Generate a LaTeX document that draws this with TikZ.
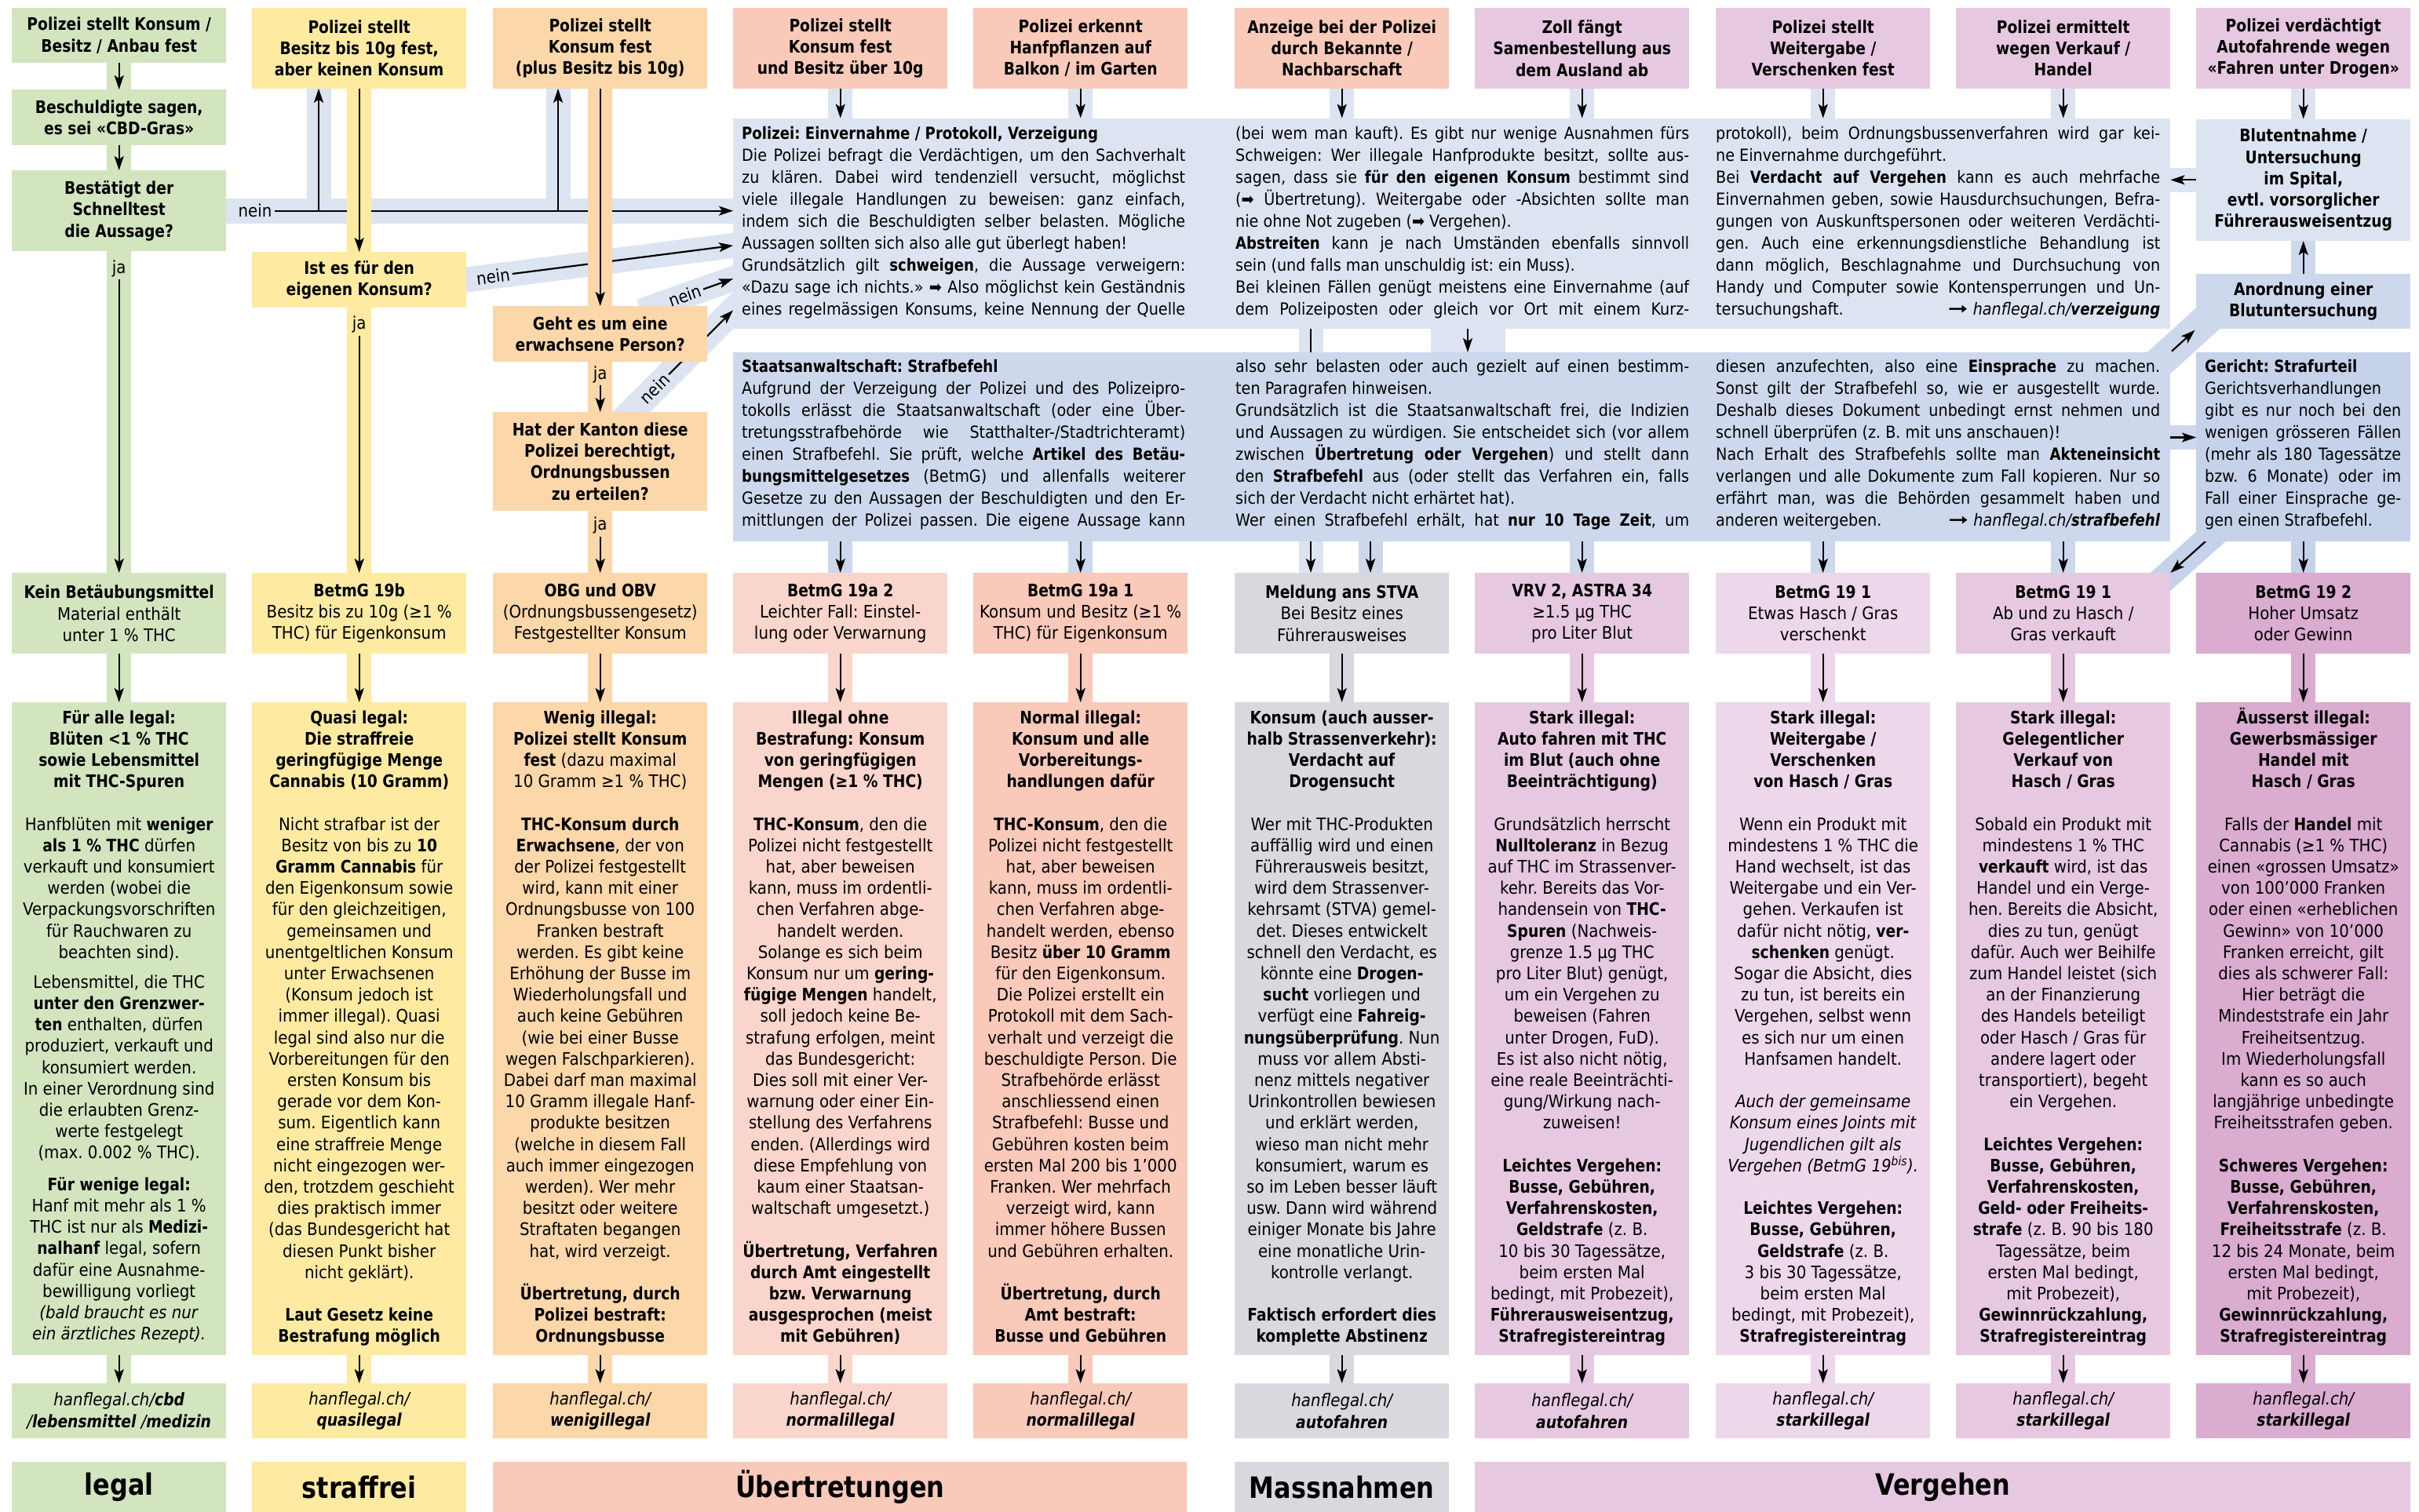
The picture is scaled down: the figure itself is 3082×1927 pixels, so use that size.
\documentclass[tikz,border=0pt]{standalone}
\usepackage{fontspec}
\setmainfont{DejaVu Sans}[
  UprightFeatures={FakeStretch=0.9},
  BoldFeatures={FakeStretch=0.85},
  ItalicFeatures={FakeStretch=0.9},
  BoldItalicFeatures={FakeStretch=0.85}]
\usetikzlibrary{calc,positioning,arrows.meta}
\tikzset{>={Stealth[length=18pt,width=12pt,inset=4pt]}}

\pgfdeclarelayer{bands}
\pgfdeclarelayer{bluelines}
\pgfdeclarelayer{colbands}
\pgfsetlayers{bands,bluelines,colbands,main}

\definecolor{cgreen}{HTML}{D2E5BF}
\definecolor{cyellow}{HTML}{FEEBA1}
\definecolor{corange}{HTML}{FBD7A9}
\definecolor{csalmon}{HTML}{F9C9B9}
\definecolor{csalmonl}{HTML}{FAD5CB}
\definecolor{cgrey}{HTML}{D8D9DE}
\definecolor{cpink}{HTML}{E6C9E1}
\definecolor{cpinkl}{HTML}{EDD7EA}
\definecolor{cpinkd}{HTML}{D9ACD0}
\definecolor{cbluel}{HTML}{DDE4F1}
\definecolor{cbluem}{HTML}{CDD8EC}
\definecolor{cblued}{HTML}{C5D2EA}

\newcommand\hdfont{\fontsize{22}{27.2}\selectfont\bfseries}
\newcommand\txfont{\fontsize{22}{27.2}\selectfont}
\newcommand\blfont{\fontsize{21.3}{28}\selectfont\frenchspacing}
\newcommand\catfont{\fontsize{37.5}{40}\selectfont\bfseries}
\newcommand\jl[1]{\hbox to\linewidth{#1}}
\newcommand\el[1]{\hbox{#1}}
\newcommand\leer{\\[27.2pt]}
\newcommand\weiter{\scalebox{1.7}[1.1]{\textbf{➞}}}

\tikzset{
  cell/.style={anchor=north west, inner sep=0pt, minimum width=273pt, align=center},
  hdbox/.style={cell, minimum height=102.5pt, font=\hdfont},
  midbox/.style={cell, minimum height=103pt, font=\txfont},
  lowbox/.style={cell, minimum height=832pt},
  urlbox/.style={cell, minimum height=70pt, font=\txfont\itshape},
  catbox/.style={cell, minimum height=64pt, font=\catfont},
  blk/.style={anchor=north west, inner sep=0pt},
  btxt/.style={anchor=base west, inner sep=0pt},
  bodytxt/.style={anchor=base, inner sep=0pt},
  lbl/.style={inner sep=3pt, font=\txfont},
  strip/.style={draw=#1, line width=31pt},
  arr/.style={->, line width=2.2pt}
}

\begin{document}
\frenchspacing
\begin{tikzpicture}[x=1pt, y=-1pt]
\useasboundingbox (0,0) rectangle (3082,1927);

\node[hdbox, fill=cgreen, minimum height=70pt] (g1) at (15,10) {Polizei stellt Konsum /\\Besitz / Anbau fest};
\node[hdbox, fill=cgreen, minimum height=70.6pt] (g2) at (15,114) {Beschuldigte sagen,\\es sei «CBD-Gras»};
\node[hdbox, fill=cgreen, minimum height=103pt] (q1) at (15,217) {Bestätigt der\\Schnelltest\\die Aussage?};
\node[hdbox, fill=cyellow] (hd2) at (321,10) {Polizei stellt\\Besitz bis 10g fest,\\aber keinen Konsum};
\node[hdbox, fill=cyellow, minimum height=70.6pt] (q2) at (321,321) {Ist es für den\\eigenen Konsum?};
\node[hdbox, fill=corange] (hd3) at (628,10) {Polizei stellt\\Konsum fest\\(plus Besitz bis 10g)};
\node[hdbox, fill=corange, minimum height=71pt] (q3) at (628,390) {Geht es um eine\\erwachsene Person?};
\node[hdbox, fill=corange, minimum height=125.6pt] (q4) at (628,525) {Hat der Kanton diese\\Polizei berechtigt,\\Ordnungsbussen\\zu erteilen?};
\node[hdbox, fill=csalmon] (hd4) at (934,10) {Polizei stellt\\Konsum fest\\und Besitz über 10g};
\node[hdbox, fill=csalmon] (hd5) at (1240,10) {Polizei erkennt\\Hanfpflanzen auf\\Balkon / im Garten};
\node[hdbox, fill=csalmon] (hd6) at (1573,10) {Anzeige bei der Polizei\\durch Bekannte /\\Nachbarschaft};
\node[hdbox, fill=cpink] (hd7) at (1879,10) {Zoll fängt\\Samenbestellung aus\\dem Ausland ab};
\node[hdbox, fill=cpink] (hd8) at (2186,10) {Polizei stellt\\Weitergabe /\\Verschenken fest};
\node[hdbox, fill=cpink] (hd9) at (2492,10) {Polizei ermittelt\\wegen Verkauf /\\Handel};
\node[hdbox, fill=cpink] (hd10) at (2798,10) {Polizei verdächtigt\\Autofahrende wegen\\«Fahren unter Drogen»};

\node[blk, fill=cbluel, minimum width=1831pt, minimum height=268.4pt] (pol) at (934,150.6) {};
\node[blk, fill=cbluem, minimum width=1831pt, minimum height=240.6pt] (sa) at (934,449) {};
\node[hdbox, fill=cbluel, minimum height=155.2pt] (blut) at (2798,151.5) {Blutentnahme /\\Untersuchung\\im Spital,\\evtl. vorsorglicher\\Führerausweisentzug};
\node[hdbox, fill=cbluem, minimum height=70pt] (anord) at (2798,349) {Anordnung einer\\Blutuntersuchung};
\node[blk, fill=cblued, minimum width=273pt, minimum height=240.6pt] (ger) at (2798,449) {};

\node[btxt] (polA) at ([xshift=11pt, yshift=-26.4pt]pol.north west) {\parbox[t]{565pt}{\blfont
\el{\textbf{Polizei: Einvernahme / Protokoll, Verzeigung}}
\jl{Die Polizei befragt die Verdächtigen, um den Sachverhalt}
\jl{zu klären. Dabei wird tendenziell versucht, möglichst}
\jl{viele illegale Handlungen zu beweisen: ganz einfach,}
\jl{indem sich die Beschuldigten selber belasten. Mögliche}
\el{Aussagen sollten sich also alle gut überlegt haben!}
\jl{Grundsätzlich gilt \textbf{schweigen}, die Aussage verweigern:}
\jl{«Dazu sage ich nichts.» ➡ Also möglichst kein Geständnis}
\jl{eines regelmässigen Konsums, keine Nennung der Quelle}}};
\node[btxt] (polB) at ([xshift=640pt, yshift=-26.4pt]pol.north west) {\parbox[t]{578pt}{\blfont
\jl{(bei wem man kauft). Es gibt nur wenige Ausnahmen fürs}
\jl{Schweigen: Wer illegale Hanfprodukte besitzt, sollte aus-}
\jl{sagen, dass sie \textbf{für den eigenen Konsum} bestimmt sind}
\jl{(➡ Übertretung). Weitergabe oder -Absichten sollte man}
\el{nie ohne Not zugeben (➡ Vergehen).}
\jl{\textbf{Abstreiten} kann je nach Umständen ebenfalls sinnvoll}
\el{sein (und falls man unschuldig ist: ein Muss).}
\jl{Bei kleinen Fällen genügt meistens eine Einvernahme (auf}
\jl{dem Polizeiposten oder gleich vor Ort mit einem Kurz-}}};
\node[btxt] (polC) at ([xshift=1252pt, yshift=-26.4pt]pol.north west) {\parbox[t]{566pt}{\blfont
\jl{protokoll), beim Ordnungsbussenverfahren wird gar kei-}
\el{ne Einvernahme durchgeführt.}
\jl{Bei \textbf{Verdacht auf Vergehen} kann es auch mehrfache}
\jl{Einvernahmen geben, sowie Hausdurchsuchungen, Befra-}
\jl{gungen von Auskunftspersonen oder weiteren Verdächti-}
\jl{gen. Auch eine erkennungsdienstliche Behandlung ist}
\jl{dann möglich, Beschlagnahme und Durchsuchung von}
\jl{Handy und Computer sowie Kontensperrungen und Un-}
\jl{tersuchungshaft.\hfill\weiter\ \textit{hanflegal.ch/\textbf{verzeigung}}}}};

\node[btxt] (saA) at ([xshift=11pt, yshift=-25pt]sa.north west) {\parbox[t]{565pt}{\blfont
\el{\textbf{Staatsanwaltschaft: Strafbefehl}}
\jl{Aufgrund der Verzeigung der Polizei und des Polizeipro-}
\jl{tokolls erlässt die Staatsanwaltschaft (oder eine Über-}
\jl{tretungsstrafbehörde wie Statthalter-/Stadtrichteramt)}
\jl{einen Strafbefehl. Sie prüft, welche \textbf{Artikel des Betäu-}}
\jl{\textbf{bungsmittelgesetzes} (BetmG) und allenfalls weiterer}
\jl{Gesetze zu den Aussagen der Beschuldigten und den Er-}
\jl{mittlungen der Polizei passen. Die eigene Aussage kann}}};
\node[btxt] (saB) at ([xshift=640pt, yshift=-25pt]sa.north west) {\parbox[t]{578pt}{\blfont
\jl{also sehr belasten oder auch gezielt auf einen bestimm-}
\el{ten Paragrafen hinweisen.}
\jl{Grundsätzlich ist die Staatsanwaltschaft frei, die Indizien}
\jl{und Aussagen zu würdigen. Sie entscheidet sich (vor allem}
\jl{zwischen \textbf{Übertretung oder Vergehen}) und stellt dann}
\jl{den \textbf{Strafbefehl} aus (oder stellt das Verfahren ein, falls}
\el{sich der Verdacht nicht erhärtet hat).}
\jl{Wer einen Strafbefehl erhält, hat \textbf{nur 10 Tage Zeit}, um}}};
\node[btxt] (saC) at ([xshift=1252pt, yshift=-25pt]sa.north west) {\parbox[t]{566pt}{\blfont
\jl{diesen anzufechten, also eine \textbf{Einsprache} zu machen.}
\jl{Sonst gilt der Strafbefehl so, wie er ausgestellt wurde.}
\jl{Deshalb dieses Dokument unbedingt ernst nehmen und}
\el{schnell überprüfen (z. B. mit uns anschauen)!}
\jl{Nach Erhalt des Strafbefehls sollte man \textbf{Akteneinsicht}}
\jl{verlangen und alle Dokumente zum Fall kopieren. Nur so}
\jl{erfährt man, was die Behörden gesammelt haben und}
\jl{anderen weitergeben.\hfill\weiter\ \textit{hanflegal.ch/\textbf{strafbefehl}}}}};
\node[btxt] (gerT) at ([xshift=11pt, yshift=-25pt]ger.north west) {\parbox[t]{250pt}{\blfont
\el{\textbf{Gericht: Strafurteil}}
\el{Gerichtsverhandlungen}
\jl{gibt es nur noch bei den}
\jl{wenigen grösseren Fällen}
\jl{(mehr als 180 Tagessätze}
\jl{bzw. 6 Monate) oder im}
\jl{Fall einer Einsprache ge-}
\el{gen einen Strafbefehl.}}};

\node[midbox, fill=cgreen] (m1) at (15,730) {\textbf{Kein Betäubungsmittel}\\Material enthält\\unter 1 \% THC};
\node[midbox, fill=cyellow] (m2) at (321,730) {\textbf{BetmG 19b}\\Besitz bis zu 10g (≥1 \%\\THC) für Eigenkonsum};
\node[midbox, fill=corange] (m3) at (628,730) {\textbf{OBG und OBV}\\(Ordnungsbussengesetz)\\Festgestellter Konsum};
\node[midbox, fill=csalmonl] (m4) at (934,730) {\textbf{BetmG 19a 2}\\Leichter Fall: Einstel-\\lung oder Verwarnung};
\node[midbox, fill=csalmon] (m5) at (1240,730) {\textbf{BetmG 19a 1}\\Konsum und Besitz (≥1 \%\\THC) für Eigenkonsum};
\node[midbox, fill=cgrey] (m6) at (1573,730) {\textbf{Meldung ans STVA}\\Bei Besitz eines\\Führerausweises};
\node[midbox, fill=cpink] (m7) at (1879,730) {\textbf{VRV 2, ASTRA 34}\\≥1.5 µg THC\\pro Liter Blut};
\node[midbox, fill=cpinkl] (m8) at (2186,730) {\textbf{BetmG 19 1}\\Etwas Hasch / Gras\\verschenkt};
\node[midbox, fill=cpink] (m9) at (2492,730) {\textbf{BetmG 19 1}\\Ab und zu Hasch /\\Gras verkauft};
\node[midbox, fill=cpinkd] (m10) at (2798,730) {\textbf{BetmG 19 2}\\Hoher Umsatz\\oder Gewinn};

\node[lowbox, fill=cgreen] (l1) at (15,895) {};
\node[lowbox, fill=cyellow] (l2) at (321,895) {};
\node[lowbox, fill=corange] (l3) at (628,895) {};
\node[lowbox, fill=csalmonl] (l4) at (934,895) {};
\node[lowbox, fill=csalmon] (l5) at (1240,895) {};
\node[lowbox, fill=cgrey] (l6) at (1573,895) {};
\node[lowbox, fill=cpink] (l7) at (1879,895) {};
\node[lowbox, fill=cpinkl] (l8) at (2186,895) {};
\node[lowbox, fill=cpink] (l9) at (2492,895) {};
\node[lowbox, fill=cpinkd] (l10) at (2798,895) {};

\node[bodytxt] (t1) at ([yshift=-27pt]l1.north) {\parbox[t]{300pt}{\txfont\centering
\textbf{Für alle legal:}\\
\textbf{Blüten <1 \% THC}\\
\textbf{sowie Lebensmittel}\\
\textbf{mit THC-Spuren}\leer
Hanfblüten mit \textbf{weniger}\\
\textbf{als 1 \% THC} dürfen\\
verkauft und konsumiert\\
werden (wobei die\\
Verpackungsvorschriften\\
für Rauchwaren zu\\
beachten sind).\\[10.8pt]
Lebensmittel, die THC\\
\textbf{unter den Grenzwer-}\\
\textbf{ten} enthalten, dürfen\\
produziert, verkauft und\\
konsumiert werden.\\
In einer Verordnung sind\\
die erlaubten Grenz-\\
werte festgelegt\\
(max. 0.002 \% THC).\\[13.2pt]
\textbf{Für wenige legal:}\\
Hanf mit mehr als 1 \%\\
THC ist nur als \textbf{Medizi-}\\
\textbf{nalhanf} legal, sofern\\
dafür eine Ausnahme-\\
bewilligung vorliegt\\
\textit{(bald braucht es nur}\\
\textit{ein ärztliches Rezept).}}};
\node[bodytxt] (t2) at ([yshift=-27pt]l2.north) {\parbox[t]{300pt}{\txfont\centering
\textbf{Quasi legal:}\\
\textbf{Die straffreie}\\
\textbf{geringfügige Menge}\\
\textbf{Cannabis (10 Gramm)}\leer
Nicht strafbar ist der\\
Besitz von bis zu \textbf{10}\\
\textbf{Gramm Cannabis} für\\
den Eigenkonsum sowie\\
für den gleichzeitigen,\\
gemeinsamen und\\
unentgeltlichen Konsum\\
unter Erwachsenen\\
(Konsum jedoch ist\\
immer illegal). Quasi\\
legal sind also nur die\\
Vorbereitungen für den\\
ersten Konsum bis\\
gerade vor dem Kon-\\
sum. Eigentlich kann\\
eine straffreie Menge\\
nicht eingezogen wer-\\
den, trotzdem geschieht\\
dies praktisch immer\\
(das Bundesgericht hat\\
diesen Punkt bisher\\
nicht geklärt).\leer
\textbf{Laut Gesetz keine}\\
\textbf{Bestrafung möglich}}};
\node[bodytxt] (t3) at ([yshift=-27pt]l3.north) {\parbox[t]{300pt}{\txfont\centering
\textbf{Wenig illegal:}\\
\textbf{Polizei stellt Konsum}\\
\textbf{fest} (dazu maximal\\
10 Gramm ≥1 \% THC)\leer
\textbf{THC-Konsum durch}\\
\textbf{Erwachsene}, der von\\
der Polizei festgestellt\\
wird, kann mit einer\\
Ordnungsbusse von 100\\
Franken bestraft\\
werden. Es gibt keine\\
Erhöhung der Busse im\\
Wiederholungsfall und\\
auch keine Gebühren\\
(wie bei einer Busse\\
wegen Falschparkieren).\\
Dabei darf man maximal\\
10 Gramm illegale Hanf-\\
produkte besitzen\\
(welche in diesem Fall\\
auch immer eingezogen\\
werden). Wer mehr\\
besitzt oder weitere\\
Straftaten begangen\\
hat, wird verzeigt.\leer
\textbf{Übertretung, durch}\\
\textbf{Polizei bestraft:}\\
\textbf{Ordnungsbusse}}};
\node[bodytxt] (t4) at ([yshift=-27pt]l4.north) {\parbox[t]{300pt}{\txfont\centering
\textbf{Illegal ohne}\\
\textbf{Bestrafung: Konsum}\\
\textbf{von geringfügigen}\\
\textbf{Mengen (≥1 \% THC)}\leer
\textbf{THC-Konsum}, den die\\
Polizei nicht festgestellt\\
hat, aber beweisen\\
kann, muss im ordentli-\\
chen Verfahren abge-\\
handelt werden.\\
Solange es sich beim\\
Konsum nur um \textbf{gering-}\\
\textbf{fügige Mengen} handelt,\\
soll jedoch keine Be-\\
strafung erfolgen, meint\\
das Bundesgericht:\\
Dies soll mit einer Ver-\\
warnung oder einer Ein-\\
stellung des Verfahrens\\
enden. (Allerdings wird\\
diese Empfehlung von\\
kaum einer Staatsan-\\
waltschaft umgesetzt.)\leer
\textbf{Übertretung, Verfahren}\\
\textbf{durch Amt eingestellt}\\
\textbf{bzw. Verwarnung}\\
\textbf{ausgesprochen (meist}\\
\textbf{mit Gebühren)}}};
\node[bodytxt] (t5) at ([yshift=-27pt]l5.north) {\parbox[t]{300pt}{\txfont\centering
\textbf{Normal illegal:}\\
\textbf{Konsum und alle}\\
\textbf{Vorbereitungs-}\\
\textbf{handlungen dafür}\leer
\textbf{THC-Konsum}, den die\\
Polizei nicht festgestellt\\
hat, aber beweisen\\
kann, muss im ordentli-\\
chen Verfahren abge-\\
handelt werden, ebenso\\
Besitz \textbf{über 10 Gramm}\\
für den Eigenkonsum.\\
Die Polizei erstellt ein\\
Protokoll mit dem Sach-\\
verhalt und verzeigt die\\
beschuldigte Person. Die\\
Strafbehörde erlässt\\
anschliessend einen\\
Strafbefehl: Busse und\\
Gebühren kosten beim\\
ersten Mal 200 bis 1’000\\
Franken. Wer mehrfach\\
verzeigt wird, kann\\
immer höhere Bussen\\
und Gebühren erhalten.\leer
\textbf{Übertretung, durch}\\
\textbf{Amt bestraft:}\\
\textbf{Busse und Gebühren}}};
\node[bodytxt] (t6) at ([yshift=-27pt]l6.north) {\parbox[t]{300pt}{\txfont\centering
\textbf{Konsum (auch ausser-}\\
\textbf{halb Strassenverkehr):}\\
\textbf{Verdacht auf}\\
\textbf{Drogensucht}\leer
Wer mit THC-Produkten\\
auffällig wird und einen\\
Führerausweis besitzt,\\
wird dem Strassenver-\\
kehrsamt (STVA) gemel-\\
det. Dieses entwickelt\\
schnell den Verdacht, es\\
könnte eine \textbf{Drogen-}\\
\textbf{sucht} vorliegen und\\
verfügt eine \textbf{Fahreig-}\\
\textbf{nungsüberprüfung}. Nun\\
muss vor allem Absti-\\
nenz mittels negativer\\
Urinkontrollen bewiesen\\
und erklärt werden,\\
wieso man nicht mehr\\
konsumiert, warum es\\
so im Leben besser läuft\\
usw. Dann wird während\\
einiger Monate bis Jahre\\
eine monatliche Urin-\\
kontrolle verlangt.\leer
\textbf{Faktisch erfordert dies}\\
\textbf{komplette Abstinenz}}};
\node[bodytxt] (t7) at ([yshift=-27pt]l7.north) {\parbox[t]{300pt}{\txfont\centering
\textbf{Stark illegal:}\\
\textbf{Auto fahren mit THC}\\
\textbf{im Blut (auch ohne}\\
\textbf{Beeinträchtigung)}\leer
Grundsätzlich herrscht\\
\textbf{Nulltoleranz} in Bezug\\
auf THC im Strassenver-\\
kehr. Bereits das Vor-\\
handensein von \textbf{THC-}\\
\textbf{Spuren} (Nachweis-\\
grenze 1.5 µg THC\\
pro Liter Blut) genügt,\\
um ein Vergehen zu\\
beweisen (Fahren\\
unter Drogen, FuD).\\
Es ist also nicht nötig,\\
eine reale Beeinträchti-\\
gung/Wirkung nach-\\
zuweisen!\leer
\textbf{Leichtes Vergehen:}\\
\textbf{Busse, Gebühren,}\\
\textbf{Verfahrenskosten,}\\
\textbf{Geldstrafe} (z. B.\\
10 bis 30 Tagessätze,\\
beim ersten Mal\\
bedingt, mit Probezeit),\\
\textbf{Führerausweisentzug,}\\
\textbf{Strafregistereintrag}}};
\node[bodytxt] (t8) at ([yshift=-27pt]l8.north) {\parbox[t]{300pt}{\txfont\centering
\textbf{Stark illegal:}\\
\textbf{Weitergabe /}\\
\textbf{Verschenken}\\
\textbf{von Hasch / Gras}\leer
Wenn ein Produkt mit\\
mindestens 1 \% THC die\\
Hand wechselt, ist das\\
Weitergabe und ein Ver-\\
gehen. Verkaufen ist\\
dafür nicht nötig, \textbf{ver-}\\
\textbf{schenken} genügt.\\
Sogar die Absicht, dies\\
zu tun, ist bereits ein\\
Vergehen, selbst wenn\\
es sich nur um einen\\
Hanfsamen handelt.\leer
\textit{Auch der gemeinsame}\\
\textit{Konsum eines Joints mit}\\
\textit{Jugendlichen gilt als}\\
\textit{Vergehen (BetmG 19\textsuperscript{bis}).}\leer
\textbf{Leichtes Vergehen:}\\
\textbf{Busse, Gebühren,}\\
\textbf{Geldstrafe} (z. B.\\
3 bis 30 Tagessätze,\\
beim ersten Mal\\
bedingt, mit Probezeit),\\
\textbf{Strafregistereintrag}}};
\node[bodytxt] (t9) at ([yshift=-27pt]l9.north) {\parbox[t]{300pt}{\txfont\centering
\textbf{Stark illegal:}\\
\textbf{Gelegentlicher}\\
\textbf{Verkauf von}\\
\textbf{Hasch / Gras}\leer
Sobald ein Produkt mit\\
mindestens 1 \% THC\\
\textbf{verkauft} wird, ist das\\
Handel und ein Verge-\\
hen. Bereits die Absicht,\\
dies zu tun, genügt\\
dafür. Auch wer Beihilfe\\
zum Handel leistet (sich\\
an der Finanzierung\\
des Handels beteiligt\\
oder Hasch / Gras für\\
andere lagert oder\\
transportiert), begeht\\
ein Vergehen.\leer
\textbf{Leichtes Vergehen:}\\
\textbf{Busse, Gebühren,}\\
\textbf{Verfahrenskosten,}\\
\textbf{Geld- oder Freiheits-}\\
\textbf{strafe} (z. B. 90 bis 180\\
Tagessätze, beim\\
ersten Mal bedingt,\\
mit Probezeit),\\
\textbf{Gewinnrückzahlung,}\\
\textbf{Strafregistereintrag}}};
\node[bodytxt] (t10) at ([yshift=-27pt]l10.north) {\parbox[t]{300pt}{\txfont\centering
\textbf{Äusserst illegal:}\\
\textbf{Gewerbsmässiger}\\
\textbf{Handel mit}\\
\textbf{Hasch / Gras}\leer
Falls der \textbf{Handel} mit\\
Cannabis (≥1 \% THC)\\
einen «grossen Umsatz»\\
von 100’000 Franken\\
oder einen «erheblichen\\
Gewinn» von 10’000\\
Franken erreicht, gilt\\
dies als schwerer Fall:\\
Hier beträgt die\\
Mindeststrafe ein Jahr\\
Freiheitsentzug.\\
Im Wiederholungsfall\\
kann es so auch\\
langjährige unbedingte\\
Freiheitsstrafen geben.\leer
\textbf{Schweres Vergehen:}\\
\textbf{Busse, Gebühren,}\\
\textbf{Verfahrenskosten,}\\
\textbf{Freiheitsstrafe} (z. B.\\
12 bis 24 Monate, beim\\
ersten Mal bedingt,\\
mit Probezeit),\\
\textbf{Gewinnrückzahlung,}\\
\textbf{Strafregistereintrag}}};

\node[urlbox, fill=cgreen] (u1) at (15,1763) {hanflegal.ch/\textbf{cbd}\\/\textbf{lebensmittel} /\textbf{medizin}};
\node[urlbox, fill=cyellow] (u2) at (321,1763) {hanflegal.ch/\\\textbf{quasilegal}};
\node[urlbox, fill=corange] (u3) at (628,1763) {hanflegal.ch/\\\textbf{wenigillegal}};
\node[urlbox, fill=csalmonl] (u4) at (934,1763) {hanflegal.ch/\\\textbf{normalillegal}};
\node[urlbox, fill=csalmon] (u5) at (1240,1763) {hanflegal.ch/\\\textbf{normalillegal}};
\node[urlbox, fill=cgrey] (u6) at (1573,1763) {hanflegal.ch/\\\textbf{autofahren}};
\node[urlbox, fill=cpink] (u7) at (1879,1763) {hanflegal.ch/\\\textbf{autofahren}};
\node[urlbox, fill=cpinkl] (u8) at (2186,1763) {hanflegal.ch/\\\textbf{starkillegal}};
\node[urlbox, fill=cpink] (u9) at (2492,1763) {hanflegal.ch/\\\textbf{starkillegal}};
\node[urlbox, fill=cpinkd] (u10) at (2798,1763) {hanflegal.ch/\\\textbf{starkillegal}};

\node[catbox, fill=cgreen] (k1) at (15,1863) {legal};
\node[catbox, fill=cyellow] (k2) at (321,1863) {straffrei};
\node[catbox, fill=csalmon, minimum width=884pt] (k3) at (628,1863) {Übertretungen};
\node[catbox, fill=cgrey] (k6) at (1573,1863) {Massnahmen};
\node[catbox, fill=cpink, minimum width=1192pt] (k7) at (1879,1863) {Vergehen};

\node[lbl, right=12pt of q1] (nein1) {nein};
\node[lbl, below=8pt of q1] (ja1) {ja};
\node[lbl, below=8pt of q2] (ja2) {ja};
\node[lbl, below=2pt of q3] (ja3) {ja};
\node[lbl, below=5pt of q4] (ja4) {ja};

\coordinate (tee2) at (406,268.5);
\coordinate (tee3) at (711,268.5);
\coordinate (in2) at ([yshift=-27.9pt]pol.west);
\coordinate (in3) at ([yshift=-70.2pt]pol.west);
\coordinate (in4) at ([yshift=24pt]pol.south west);
\coordinate (o3) at ([xshift=-66pt]q3.north east);
\coordinate (o4) at ([xshift=-97pt]q4.north east);
\coordinate (xps) at (1870,0);
\coordinate (xpt) at (1670,0);
\coordinate (xs6) at (1746,0);
\coordinate (sg) at ([yshift=12pt]sa.east);
\coordinate (gs) at ([xshift=12pt]ger.south west);

\path (q2.east) -- (in2) node[lbl, sloped, pos=0.1] (nein2) {nein};
\path (o3) -- (in3) node[lbl, sloped, pos=0.38] (nein3) {nein};
\path (o4) -- (in4) node[lbl, sloped, pos=0.23, inner sep=1pt] (nein4) {nein};

\begin{pgfonlayer}{bands}
\fill[white] (0,0) rectangle (3082,1927);
\draw[strip=cbluel, line width=32pt] (q1) -- (q1 -| pol.west);
\draw[strip=cbluel] (tee2) -- (tee2 |- hd2.south);
\draw[strip=cbluel] (tee3) -- (tee3 |- hd3.south);
\draw[strip=cbluel, line width=32pt, shorten <=-20pt, shorten >=-15pt] (q2.east) -- (in2);
\draw[strip=cbluel, line width=32pt, shorten <=-20pt, shorten >=-15pt] (o3) -- (in3);
\draw[strip=cbluel, line width=34pt, shorten <=-20pt, shorten >=-15pt] (o4) -- (in4);
\foreach \c in {4,...,9} \draw[strip=cbluel] (hd\c) -- (hd\c |- pol.north);
\draw[strip=cbluel] (hd10) -- (blut);
\draw[strip=cbluel] (blut.west) -- (blut.west -| pol.east);
\draw[strip=cbluem] (anord) -- (blut);
\draw[strip=cbluem, line width=40pt, shorten <=-30pt, shorten >=-30pt] (sa.north east) -- (anord.south west);
\draw[strip=cbluem] (sg) -- (sg -| ger.west);
\draw[strip=cbluel, line width=95pt] (pol.south -| xps) -- (sa.north -| xps);
\draw[strip=cbluel] (pol.south -| xpt) -- (m6.north -| xpt);
\foreach \c in {4,5,7,8,9} \draw[strip=cbluem] (m\c |- sa.south) -- (m\c);
\draw[strip=cbluem] (sa.south -| xs6) -- (m6.north -| xs6);
\draw[strip=cblued] (ger) -- (m10);
\draw[strip=cblued, line width=34pt, shorten <=-25pt, shorten >=-20pt] (gs) -- (m9.north east);
\end{pgfonlayer}

\begin{pgfonlayer}{bluelines}
\draw[arr] (nein1) -- (nein1 -| pol.west);
\draw[arr] (tee2) -- (tee2 |- hd2.south);
\draw[arr] (tee3) -- (tee3 |- hd3.south);
\draw[arr] (nein2.east) -- (in2);
\draw[arr] (nein3.east) -- (in3);
\draw[arr] ([shift={(2pt,2pt)}]nein4.east) -- (in4);
\foreach \c in {4,...,9} \draw[arr] (hd\c) -- (hd\c |- pol.north);
\draw[arr] (hd10) -- (blut);
\draw[arr] (blut.west) -- (blut.west -| pol.east);
\draw[arr] (anord) -- (blut);
\draw[arr, shorten <=2pt, shorten >=2pt] (sa.north east) -- (anord.south west);
\draw[arr] (sg) -- (sg -| ger.west);
\draw[arr] (pol.south -| xps) -- (sa.north -| xps);
\draw[arr] (pol.south -| xpt) -- (m6.north -| xpt);
\foreach \c in {4,5,7,8,9} \draw[arr] (m\c |- sa.south) -- (m\c);
\draw[arr] (sa.south -| xs6) -- (m6.north -| xs6);
\draw[arr] (ger) -- (m10);
\draw[arr] (gs) -- (m9.north east);
\end{pgfonlayer}

\begin{pgfonlayer}{colbands}
\draw[strip=cgreen] (g1) -- (g2) -- (q1) -- (m1) -- (l1) -- (u1);
\draw[strip=cyellow] (hd2) -- (q2) -- (m2) -- (l2) -- (u2);
\draw[strip=corange] (hd3) -- (q3) -- (q4) -- (m3) -- (l3) -- (u3);
\draw[strip=csalmonl] (m4) -- (l4) -- (u4);
\draw[strip=csalmon] (m5) -- (l5) -- (u5);
\draw[strip=cgrey] (m6) -- (l6) -- (u6);
\draw[strip=cpink] (m7) -- (l7) -- (u7);
\draw[strip=cpinkl] (m8) -- (l8) -- (u8);
\draw[strip=cpink] (m9) -- (l9) -- (u9);
\draw[strip=cpinkd] (m10) -- (l10) -- (u10);
\end{pgfonlayer}

\draw[arr] (g1) -- (g2);
\draw[arr] (g2) -- (q1);
\draw[arr] (ja1) -- (m1);
\draw[arr] (hd2) -- (q2);
\draw[arr] (ja2) -- (m2);
\draw[arr] (hd3) -- (q3);
\draw[arr] (ja3) -- (q4);
\draw[arr] (ja4) -- (m3);
\foreach \c in {1,...,10} {
  \draw[arr] (m\c) -- (l\c);
  \draw[arr] (l\c) -- (u\c);
}
\end{tikzpicture}
\end{document}
